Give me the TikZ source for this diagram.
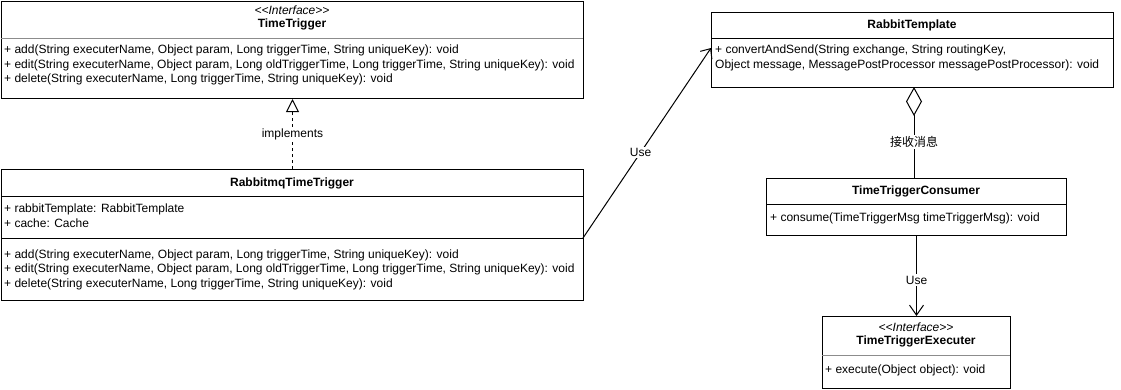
\documentclass[tikz,border=0pt]{standalone}
\usepackage{fontspec}
\setmainfont{Liberation Sans}
\newfontfamily\cjk{Noto Sans CJK SC}
\usetikzlibrary{arrows.meta,calc}
\begin{document}
\begin{tikzpicture}[x=1pt,y=-1pt,
  umlbox/.style={draw=black,line width=1pt,inner sep=0pt,anchor=north west},
  txt/.style={inner sep=0pt,anchor=west,font=\fontsize{12}{14}\selectfont},
  ctxt/.style={inner sep=0pt,anchor=center,font=\fontsize{12}{14}\selectfont},
  sepline/.style={line width=1pt,black},
  lsep/.style={line width=1pt,black!45},
  conn/.style={line width=1pt,black},
  lbl/.style={fill=white,inner sep=1.5pt,font=\fontsize{12}{14}\selectfont}
]
\useasboundingbox (0,0) rectangle (1121,389);

% TimeTrigger
\node[umlbox,minimum width=582pt,minimum height=97pt] (tt) at (1,1) {};
\node[ctxt,font=\fontsize{12}{14}\selectfont\itshape] (ttst) at (292,10) {<{}<Interface>{}>};
\node[ctxt,font=\fontsize{12}{14}\selectfont\bfseries] (ttname) at (292,24) {TimeTrigger};
\draw[lsep] (1,38) -- (583,38);
\node[txt] (tt1) at (4,50) {+ add(String executerName, Object param, Long triggerTime, String uniqueKey): void};
\node[txt] (tt2) at (4,65) {+ edit(String executerName, Object param, Long oldTriggerTime, Long triggerTime, String uniqueKey): void};
\node[txt] (tt3) at (4,79) {+ delete(String executerName, Long triggerTime, String uniqueKey): void};

% RabbitmqTimeTrigger
\node[umlbox,minimum width=582pt,minimum height=131pt] (rmq) at (1,169) {};
\node[ctxt,font=\fontsize{12}{14}\selectfont\bfseries] (rmqname) at (292,183) {RabbitmqTimeTrigger};
\draw[sepline] (1,196) -- (583,196);
\node[txt] (rmqa1) at (4,209) {+ rabbitTemplate: RabbitTemplate};
\node[txt] (rmqa2) at (4,223) {+ cache: Cache};
\draw[sepline] (1,238) -- (583,238);
\coordinate (rmqout) at (583,238);
\node[txt] (rmq1) at (4,255) {+ add(String executerName, Object param, Long triggerTime, String uniqueKey): void};
\node[txt] (rmq2) at (4,269) {+ edit(String executerName, Object param, Long oldTriggerTime, Long triggerTime, String uniqueKey): void};
\node[txt] (rmq3) at (4,284) {+ delete(String executerName, Long triggerTime, String uniqueKey): void};

% RabbitTemplate
\node[umlbox,minimum width=402pt,minimum height=75pt] (rt) at (711,12) {};
\node[ctxt,font=\fontsize{12}{14}\selectfont\bfseries] (rtname) at (912,25) {RabbitTemplate};
\draw[sepline] (711,38) -- (1113,38);
\coordinate (rtin) at (711,48);
\node[txt] (rt1) at (715,50) {+ convertAndSend(String exchange, String routingKey,};
\node[txt] (rt2) at (715,65) {Object message, MessagePostProcessor messagePostProcessor): void};
\coordinate (rtagg) at (914,87);

% TimeTriggerConsumer
\node[umlbox,minimum width=300pt,minimum height=57pt] (tc) at (766,178) {};
\node[ctxt,font=\fontsize{12}{14}\selectfont\bfseries] (tcname) at (916,191) {TimeTriggerConsumer};
\draw[sepline] (766,204) -- (1066,204);
\node[txt] (tc1) at (770,218) {+ consume(TimeTriggerMsg timeTriggerMsg): void};
\coordinate (tcagg) at (914,178);

% TimeTriggerExecuter
\node[umlbox,minimum width=188pt,minimum height=72pt] (te) at (822,316) {};
\node[ctxt,font=\fontsize{12}{14}\selectfont\itshape] (test) at (916,327) {<{}<Interface>{}>};
\node[ctxt,font=\fontsize{12}{14}\selectfont\bfseries] (tename) at (916,341) {TimeTriggerExecuter};
\draw[lsep] (822,355) -- (1010,355);
\node[txt] (te1) at (825,370) {+ execute(Object object): void};

% connectors
\draw[conn,dashed,dash pattern=on 3pt off 3pt,-{Triangle[open,length=13pt,width=13pt,line width=1pt]}]
  (rmq.north) -- node[lbl] {implements} (tt.south);
\draw[conn,-{Straight Barb[length=8pt,width=14pt,line width=1pt]}]
  (rmqout) -- node[lbl,pos=0.45] {Use} (rtin);
\draw[conn,-{Diamond[open,length=29pt,width=16pt,line width=1pt]}]
  (tcagg) -- node[lbl,pos=0.4] {\cjk 接收消息} (rtagg);
\draw[conn,-{Straight Barb[length=10pt,width=14pt,line width=1pt]}]
  (tc.south) -- node[lbl,pos=0.55] {Use} (te.north);
\end{tikzpicture}
\end{document}
